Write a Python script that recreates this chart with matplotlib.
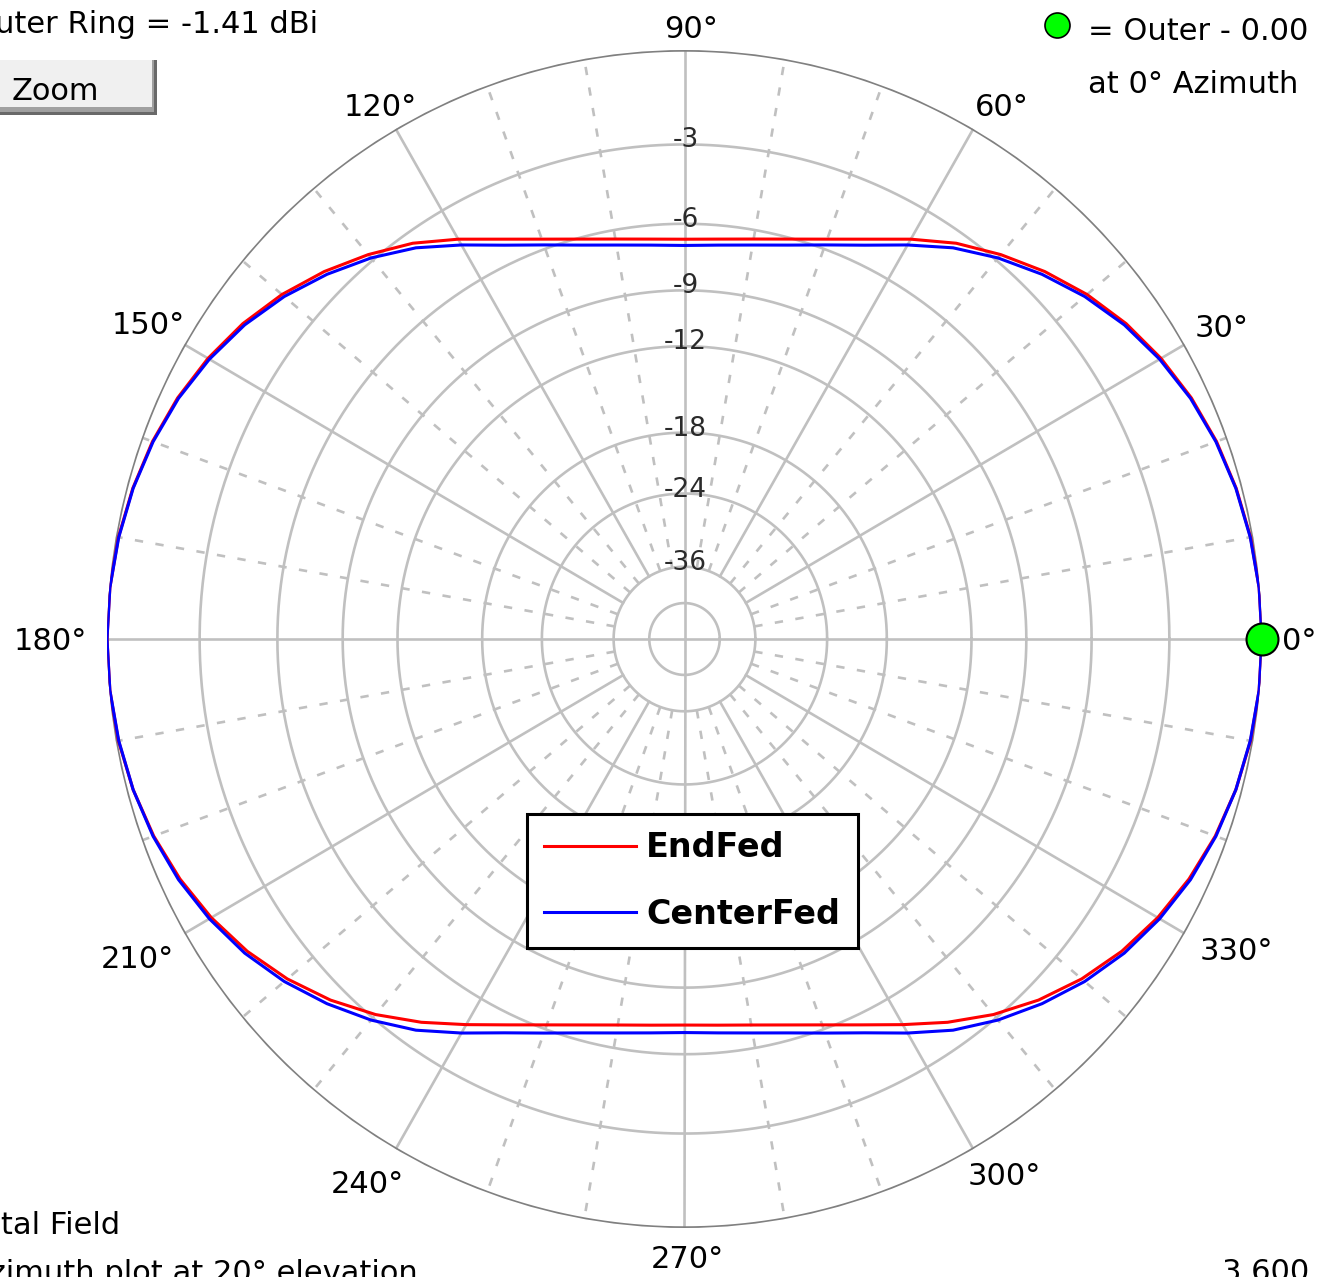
import numpy as np
import matplotlib
matplotlib.use("Agg")
import matplotlib.pyplot as plt
from matplotlib.patches import Rectangle

plt.rcParams["font.family"] = ["DejaVu Sans"]
plt.rcParams["lines.scale_dashes"] = False

# azimuth pattern, dB relative to the outer ring, every 5 degrees from 0 to 355
angles_deg = np.arange(0, 360, 5)
endfed_db = [
    0.00, -0.02, -0.08, -0.19, -0.34, -0.55, -0.83, -1.18, -1.62, -2.15,
    -2.75, -3.40, -4.18, -4.96, -5.58, -6.05, -6.38, -6.58, -6.65, -6.58,
    -6.38, -6.05, -5.58, -4.96, -4.18, -3.40, -2.75, -2.15, -1.62, -1.18,
    -0.83, -0.55, -0.34, -0.19, -0.08, -0.02, 0.00, -0.02, -0.08, -0.20,
    -0.38, -0.63, -0.95, -1.35, -1.85, -2.45, -3.15, -3.95, -4.80, -5.57,
    -6.19, -6.66, -6.99, -7.18, -7.25, -7.18, -6.99, -6.66, -6.19, -5.57,
    -4.80, -3.95, -3.15, -2.45, -1.85, -1.35, -0.95, -0.63, -0.38, -0.20,
    -0.08, -0.02,
]
centerfed_db = [
    0.00, -0.02, -0.09, -0.20, -0.36, -0.58, -0.88, -1.25, -1.72, -2.28,
    -2.90, -3.60, -4.43, -5.22, -5.83, -6.31, -6.64, -6.84, -6.92, -6.84,
    -6.64, -6.31, -5.83, -5.22, -4.43, -3.60, -2.90, -2.28, -1.72, -1.25,
    -0.88, -0.58, -0.36, -0.20, -0.09, -0.02, 0.00, -0.02, -0.09, -0.20,
    -0.36, -0.58, -0.88, -1.25, -1.72, -2.28, -2.90, -3.60, -4.43, -5.22,
    -5.83, -6.31, -6.64, -6.84, -6.92, -6.84, -6.64, -6.31, -5.83, -5.22,
    -4.43, -3.60, -2.90, -2.28, -1.72, -1.25, -0.88, -0.58, -0.36, -0.20,
    -0.09, -0.02,
]
series_names = ["EndFed", "CenterFed"]

ring_db = [-3, -6, -9, -12, -18, -24, -36]
ring_labels = ["-3", "-6", "-9", "-12", "-18", "-24", "-36"]
center_ring_db = -48
azimuth_labels = [0, 30, 60, 90, 120, 150, 180, 210, 240, 270, 300, 330]
outer_ring_dbi = -1.41
freq_mhz = 3.600
elevation_deg = 20

GRID = "#c0c0c0"
OUTER = "#808080"
FS = 22

# small pixel nudges for the azimuth labels (right, down)
label_nudge = {0: (8, 0), 30: (0, -2), 60: (-4, -3), 90: (7, 0),
               120: (27, -3), 150: (11, -5), 180: (-8, 0), 210: (0, 6),
               240: (14, 11), 270: (3, 5), 300: (-11, 3), 330: (5, -2)}


# ARRL log scale: radius shrinks by 0.89 every 2 dB
def db_to_r(db):
    return np.power(0.89, -np.asarray(db, dtype=float) / 2.0)


def r_to_db(r):
    return -2.0 * np.log(np.clip(r, 1e-12, None)) / np.log(0.89)


W, H = 1318, 1277
fig = plt.figure(figsize=(W / 100, H / 100), dpi=100)
fig.patch.set_facecolor("white")

cx, cy, rx, ry = 684.5, 639.0, 577.5, 589.0
ax = fig.add_axes([(cx - rx) / W, (H - cy - ry) / H, 2 * rx / W, 2 * ry / H],
                  projection="polar")
ax.set_aspect("auto")
ax.set_rscale("function", functions=(db_to_r, r_to_db))
ax.grid(False)
ax.spines["polar"].set_visible(False)
ax.patch.set_alpha(0)

# rings
circ = np.linspace(0, 2 * np.pi, 721)
for db in ring_db + [center_ring_db]:
    ax.plot(circ, np.full_like(circ, db), color=GRID, lw=1.9, zorder=1)
ax.plot(circ, np.zeros_like(circ), color=OUTER, lw=2.5, zorder=2)

# spokes: axes through the centre, solid every 30, dashed every 10
for a in range(0, 360, 10):
    t = np.deg2rad(a)
    if a % 90 == 0:
        ax.plot([t, t], [-200, 0], color=GRID, lw=1.9, zorder=1)
    elif a % 30 == 0:
        ax.plot([t, t], [-36, 0], color=GRID, lw=1.9, zorder=1)
    else:
        ax.plot([t, t], [-36, 0], color=GRID, lw=1.9, zorder=1,
                linestyle=(0, (6, 9)))

for db, lab in zip(ring_db, ring_labels):
    ax.annotate(lab, xy=(np.pi / 2, db), xytext=(1, 4),
                textcoords="offset pixels", ha="center", va="center",
                fontsize=19, color="#2a2a2a", zorder=3)

theta = np.deg2rad(np.append(angles_deg, 360))
red = np.append(endfed_db, endfed_db[0])
blue = np.append(centerfed_db, centerfed_db[0])
ax.plot(theta, red, color="#ff0000", lw=2.2, label=series_names[0], zorder=4)
ax.plot(theta, blue, color="#0000ff", lw=2.2, label=series_names[1], zorder=5)

# marker at the pattern maximum
imax = int(np.argmax(centerfed_db))
ax.plot(np.deg2rad(angles_deg[imax]), centerfed_db[imax], "o", ms=23,
        mfc="#00ff00", mec="#000000", mew=1.5, zorder=6, clip_on=False)

ax.set_xticks([])
ax.set_yticks([])
ax.set_rlim(-200, 0)

for a in azimuth_labels:
    c, s = np.cos(np.deg2rad(a)), np.sin(np.deg2rad(a))
    ha = "left" if c > 0.1 else ("right" if c < -0.1 else "center")
    va = "baseline" if s > 0.1 else ("top" if s < -0.1 else "center_baseline")
    dx, dy = label_nudge[a]
    ax.annotate(f"{a}°", xy=(0.5 + 0.51 * c, 0.5 + 0.51 * s),
                xycoords="axes fraction", xytext=(dx, -dy),
                textcoords="offset pixels", ha=ha, va=va, fontsize=FS,
                color="#000000", annotation_clip=False)

leg = ax.legend(loc="lower left", bbox_to_anchor=(527 / W, 1 - 948 / H),
                bbox_transform=fig.transFigure,
                prop={"weight": "bold", "size": 24}, frameon=True,
                fancybox=False, edgecolor="black", framealpha=1,
                handlelength=2.76, handletextpad=0.3, borderpad=0.52,
                labelspacing=1.0, borderaxespad=0)
leg.get_frame().set_linewidth(2.2)

# window furniture around the plot
ov = fig.add_axes([0, 0, 1, 1], zorder=-1)
ov.set_xlim(0, W)
ov.set_ylim(H, 0)
ov.axis("off")

ov.add_patch(Rectangle((-5, 60), 162, 55, facecolor="#696969", edgecolor="none"))
ov.add_patch(Rectangle((-5, 60), 159, 52, facecolor="#a0a0a0", edgecolor="none"))
ov.add_patch(Rectangle((-5, 60), 157, 47, facecolor="#f0f0f0", edgecolor="none"))
ov.text(12, 100, "Zoom", fontsize=FS, ha="left", va="baseline")

ov.text(318, 33, f"Outer Ring = {outer_ring_dbi:.2f} dBi", fontsize=FS,
        ha="right", va="baseline")
ov.plot(1057, 25, "o", ms=18, mfc="#00ff00", mec="#000000", mew=1.2)
ov.text(1088, 40, "= Outer - 0.00", fontsize=FS, ha="left", va="baseline")
ov.text(1088, 93, "at 0° Azimuth", fontsize=FS, ha="left", va="baseline")
ov.text(120, 1234, "Total Field", fontsize=FS, ha="right", va="baseline")
ov.text(418, 1282, f"Azimuth plot at {elevation_deg}° elevation", fontsize=FS,
        ha="right", va="baseline")
ov.text(1222, 1281, f"{freq_mhz:.3f} MHz", fontsize=FS, ha="left",
        va="baseline")

fig.savefig("out.png", dpi=100, facecolor="white")
